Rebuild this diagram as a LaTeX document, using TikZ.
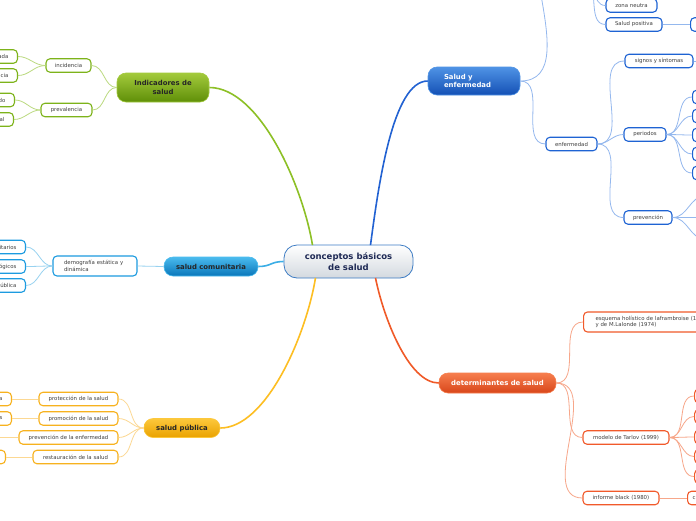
\documentclass[tikz,border=0pt]{standalone}
\usepackage{fontspec}
\setmainfont{DejaVu Sans}
\usetikzlibrary{calc}
\definecolor{cenA}{HTML}{FFFFFF}
\definecolor{cenB}{HTML}{D3D9DF}
\definecolor{cenD}{HTML}{3D7CC4}
\definecolor{cenT}{HTML}{1F2A55}
\definecolor{grA}{HTML}{A3CA3C}
\definecolor{grB}{HTML}{5F8F08}
\definecolor{grD}{HTML}{7DB31A}
\definecolor{grL}{HTML}{BBDA80}
\definecolor{grM}{HTML}{8DC026}
\definecolor{cuA}{HTML}{4ABBEE}
\definecolor{cuB}{HTML}{0A76BA}
\definecolor{cuD}{HTML}{1C9BE0}
\definecolor{cuL}{HTML}{98D2F0}
\definecolor{cuM}{HTML}{3BAEE6}
\definecolor{puA}{HTML}{FCC83C}
\definecolor{puB}{HTML}{E9A200}
\definecolor{puD}{HTML}{F7B21E}
\definecolor{puL}{HTML}{FCD892}
\definecolor{puM}{HTML}{FDBE22}
\definecolor{seA}{HTML}{4F93E5}
\definecolor{seB}{HTML}{1450B5}
\definecolor{seD}{HTML}{1E63D3}
\definecolor{seL}{HTML}{94B8EE}
\definecolor{seM}{HTML}{2262D2}
\definecolor{deA}{HTML}{F67E4E}
\definecolor{deB}{HTML}{D8461A}
\definecolor{deD}{HTML}{F15A2B}
\definecolor{deL}{HTML}{F7A78A}
\definecolor{deM}{HTML}{F05A28}
\definecolor{txt}{HTML}{404040}
\begin{document}
\begin{tikzpicture}[x=1pt,y=-1pt,
  sub/.style={draw, fill=white, rounded corners=4pt, line width=1.1pt,
    font=\fontsize{5.4}{6.6}\selectfont, text=txt, inner sep=0pt, minimum height=13.5pt},
  leftcut/.style={sub, anchor=east, text width=50pt, align=right},
  rightcut/.style={sub, anchor=west, minimum width=40pt},
  main/.style={rounded corners=9pt, font=\fontsize{6.9}{8.4}\selectfont\bfseries,
    inner sep=0pt, line width=0.6pt},
  thin/.style={line width=0.8pt},
  branch/.style={line width=1.6pt},
]
\useasboundingbox (0,0) rectangle (696,520);
\fill[white] (0,0) rectangle (696,520);
\clip (0,0) rectangle (696,520);

% ---------- main nodes ----------
\node[main, top color=cenA, bottom color=cenB, draw=cenD, line width=0.8pt, rounded corners=13pt,
  minimum width=129pt, minimum height=33pt, font=\fontsize{8.5}{10.5}\selectfont\bfseries,
  text=cenT, align=center] (c) at (348.5,261.5) {conceptos básicos\\de salud};

\node[main, top color=grA, bottom color=grB, draw=grA, minimum width=92pt, minimum height=29pt,
  align=center, text=black!85] (ind) at (163,87.5) {Indicadores de\\salud};
\node[main, top color=cuA, bottom color=cuB, draw=cuA, minimum width=94pt, minimum height=19pt,
  text=black!85] (com) at (211,266.5) {salud comunitaria};
\node[main, top color=puA, bottom color=puB, draw=puA, minimum width=76pt, minimum height=19pt,
  text=black!85] (pub) at (182,428) {salud pública};
\node[main, top color=seA, bottom color=seB, draw=seA, minimum width=92pt, minimum height=28pt,
  text width=60pt, inner xsep=16pt, align=left, text=white] (se) at (474,81) {Salud y\\enfermedad};
\node[main, top color=deA, bottom color=deB, draw=deA, minimum width=117pt, minimum height=20pt,
  text=white] (det) at (497.5,383) {determinantes de salud};

% ---------- main branches ----------
\draw[branch, grM] ($(c.north)+(-36,0.5)$) .. controls +(-10,-60) and +(50,0) .. (ind.east);
\draw[branch, cuM] (c.west) .. controls +(-13,0) and +(13,0) .. (com.east);
\draw[branch, puM] ($(c.south)+(-33,-0.5)$) .. controls +(-10,60) and +(45,0) .. (pub.east);
\draw[branch, seM] ($(c.north)+(22,0.5)$) .. controls +(8,-60) and +(-35,0) .. (se.west);
\draw[branch, deM] ($(c.south)+(27,-0.5)$) .. controls +(8,40) and +(-30,0) .. (det.west);

% ---------- indicadores de salud ----------
\begin{scope}[every node/.append style={draw=grD}]
\node[sub, minimum width=45pt] (inc) at (68.5,65.5) {incidencia};
\node[sub, minimum width=51pt] (pre) at (66.5,110) {prevalencia};
\node[leftcut] (g1) at (18,56.5) {ada\hspace*{9pt}};
\node[leftcut] (g2) at (18,75.5) {ncia\hspace*{9pt}};
\node[leftcut] (g3) at (15,100) {do\hspace*{9pt}};
\node[leftcut] (g4) at (14,119.5) {al\hspace*{9pt}};
\end{scope}
\begin{scope}[thin, grL]
\draw (ind.west) to[out=180,in=0] (inc.east);
\draw (ind.west) to[out=180,in=0] (pre.east);
\draw (inc.west) to[out=180,in=0] (g1.east);
\draw (inc.west) to[out=180,in=0] (g2.east);
\draw (pre.west) to[out=180,in=0] (g3.east);
\draw (pre.west) to[out=180,in=0] (g4.east);
\end{scope}

% ---------- salud comunitaria ----------
\begin{scope}[every node/.append style={draw=cuD}]
\node[sub, minimum width=84pt, minimum height=20pt, text width=62pt, inner xsep=11pt, align=left]
  (dem) at (95,266) {demografía estática y\\dinámica};
\node[leftcut] (b1) at (26,247) {itarios\hspace*{9pt}};
\node[leftcut] (b2) at (26,266.5) {ógicos\hspace*{9pt}};
\node[leftcut] (b3) at (26,285.5) {ública\hspace*{9pt}};
\end{scope}
\begin{scope}[thin, cuL]
\draw (com.west) -- (dem.east);
\draw (dem.west) to[out=180,in=0] (b1.east);
\draw (dem.west) to[out=180,in=0] (b2.east);
\draw (dem.west) to[out=180,in=0] (b3.east);
\end{scope}

% ---------- salud pública ----------
\begin{scope}[every node/.append style={draw=puD}]
\node[sub, minimum width=79pt] (pr1) at (78.5,399) {protección de la salud};
\node[sub, minimum width=79pt] (pr2) at (78.5,418.5) {promoción de la salud};
\node[sub, minimum width=99pt] (pr3) at (68.5,437.5) {prevención de la enfermedad};
\node[sub, minimum width=85pt] (pr4) at (75.5,457) {restauración de la salud};
\node[leftcut] (o1) at (12,399) {a\hspace*{9pt}};
\node[leftcut] (o2) at (12,418.5) {s\hspace*{9pt}};
\node[leftcut] (o4) at (6,457) {\hspace*{9pt}};
\end{scope}
\coordinate (o3) at (-20,437.5);
\begin{scope}[thin, puL]
\draw (pub.west) to[out=180,in=0] (pr1.east);
\draw (pub.west) to[out=180,in=0] (pr2.east);
\draw (pub.west) to[out=180,in=0] (pr3.east);
\draw (pub.west) to[out=180,in=0] (pr4.east);
\draw (pr1.west) -- (o1.east);
\draw (pr2.west) -- (o2.east);
\draw (pr3.west) -- (o3);
\draw (pr4.west) -- (o4.east);
\end{scope}

% ---------- salud y enfermedad ----------
\begin{scope}[every node/.append style={draw=seD}]
\node[sub, minimum width=51pt] (zn) at (631.5,5.5) {zona neutra};
\node[sub, minimum width=56pt] (sp) at (634,24.5) {Salud positiva};
\node[rightcut] (sp1) at (690,24.5) {};
\node[sub, minimum width=51pt] (enf) at (571.5,144) {enfermedad};
\node[sub, minimum width=68pt] (sig) at (659,61) {signos y síntomas};
\node[sub, minimum width=42pt] (per) at (645,134.5) {periodos};
\node[sub, minimum width=48pt] (prv) at (648,217.5) {prevención};
\node[rightcut] (q1) at (692,97) {};
\node[rightcut] (q2) at (692,116) {};
\node[rightcut] (q3) at (692,135) {};
\node[rightcut] (q4) at (692,154) {};
\node[rightcut] (q5) at (692,173) {};
\end{scope}
\coordinate (setop) at (560,-100);
\coordinate (zp) at (582,-22);
\coordinate (sig1) at (710,61);
\coordinate (v1) at (705,196);
\coordinate (v2) at (710,217.5);
\coordinate (v3) at (705,239);
\begin{scope}[thin, seL]
\draw (se.east) to[out=0,in=180] (setop);
\draw (se.east) to[out=0,in=180] (enf.west);
\draw (zp) to[out=0,in=180] (zn.west);
\draw (zp) to[out=0,in=180] (sp.west);
\draw (sp.east) -- (sp1.west);
\draw (enf.east) to[out=0,in=180] (sig.west);
\draw (enf.east) to[out=0,in=180] (per.west);
\draw (enf.east) to[out=0,in=180] (prv.west);
\draw (sig.east) -- (sig1);
\foreach \q in {q1,q2,q3,q4,q5} \draw (per.east) to[out=0,in=180] (\q.west);
\foreach \v in {v1,v2,v3} \draw (prv.east) to[out=0,in=180] (\v);
\end{scope}

% ---------- determinantes de salud ----------
\begin{scope}[every node/.append style={draw=deD}]
\node[sub, anchor=west, minimum height=20pt, text width=170pt, inner xsep=12pt, align=left]
  (esq) at (583,322) {esquema holístico de laframbroise (1\\y de M.Lalonde (1974)};
\node[sub, minimum width=86pt] (tar) at (626,437.5) {modelo de Tarlov (1999)};
\node[sub, minimum width=76pt] (inf) at (621,498) {informe black (1980)};
\node[rightcut] (t1) at (694,396) {};
\node[rightcut] (t2) at (694,416.5) {};
\node[rightcut] (t3) at (694,437) {};
\node[rightcut] (t4) at (694,456.5) {};
\node[rightcut] (t5) at (694,476.5) {};
\node[rightcut, text width=40pt, inner xsep=5pt, align=left] (ib) at (687,498) {c};
\end{scope}
\begin{scope}[thin, deL]
\draw (det.east) to[out=0,in=180] (esq.west);
\draw (det.east) to[out=0,in=180] (tar.west);
\draw (det.east) to[out=0,in=180] (inf.west);
\foreach \t in {t1,t2,t3,t4,t5} \draw (tar.east) to[out=0,in=180] (\t.west);
\draw (inf.east) -- (ib.west);
\end{scope}
\end{tikzpicture}
\end{document}
